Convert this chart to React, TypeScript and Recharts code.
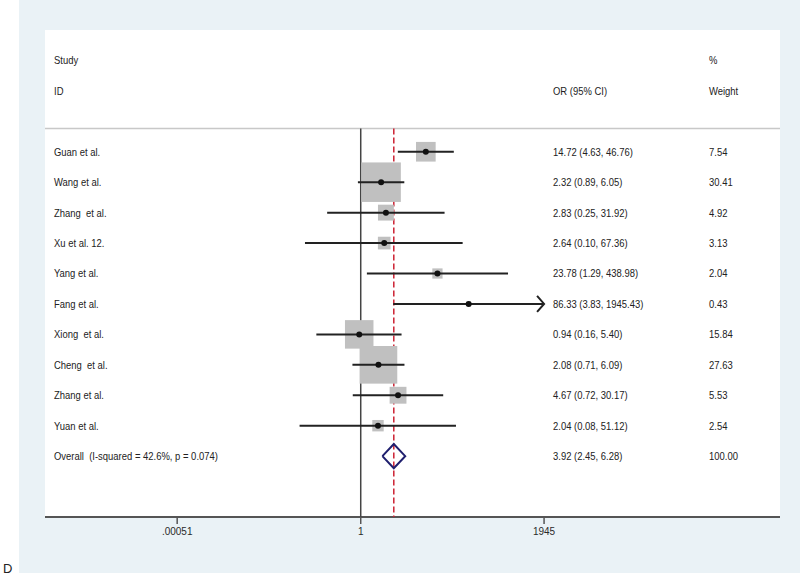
import { ScatterChart, Scatter, XAxis, YAxis, ReferenceLine } from "recharts";

const studies = [
  "Guan et al.", "Wang et al.", "Zhang  et al.", "Xu et al. 12.", "Yang et al.",
  "Fang et al.", "Xiong  et al.", "Cheng  et al.", "Zhang et al.", "Yuan et al.",
];
const oddsRatios = [14.72, 2.32, 2.83, 2.64, 23.78, 86.33, 0.94, 2.08, 4.67, 2.04];
const ciLow = [4.63, 0.89, 0.25, 0.1, 1.29, 3.83, 0.16, 0.71, 0.72, 0.08];
const ciHigh = [46.76, 6.05, 31.92, 67.36, 438.98, 1945.43, 5.4, 6.09, 30.17, 51.12];
const weights = [7.54, 30.41, 4.92, 3.13, 2.04, 0.43, 15.84, 27.63, 5.53, 2.54];

const overallLabel = "Overall  (I-squared = 42.6%, p = 0.074)";
const overallOR = 3.92;
const overallLow = 2.45;
const overallHigh = 6.28;
const overallWeight = 100.0;

const xTicks = [0.00051, 1, 1945];
const headerTop = ["Study", "", "%"];
const headerBottom = ["ID", "OR (95% CI)", "Weight"];

// layout-ish constants
const FONT = '"Liberation Sans", Arial, Helvetica, sans-serif';
const X_DOMAIN = [2.17e-6, 3.32e7];
const Y_DOMAIN = [-4, 12];
const SEP_Y = -0.76;
const BOX_PX = 39.5; // side of box for the largest study
const DIAMOND_HALF = 0.4;
const COL_X = [54, 553, 709];

const fmt = (v: number) => v.toFixed(2);
const maxW = Math.max(...weights);

const rows = studies.map((name, i) => ({ x: oddsRatios[i], y: i, w: weights[i], hi: ciHigh[i] }));
const ciSegments = studies.map((_, i) => [
  { x: ciLow[i], y: i },
  { x: ciHigh[i], y: i },
]);
const overallRow = studies.length;

const table = [
  { x: 1, y: -3, cells: headerTop },
  { x: 1, y: -2, cells: headerBottom },
  ...studies.map((name, i) => ({
    x: 1,
    y: i,
    cells: [name, `${fmt(oddsRatios[i])} (${fmt(ciLow[i])}, ${fmt(ciHigh[i])})`, fmt(weights[i])],
  })),
  {
    x: 1,
    y: overallRow,
    cells: [overallLabel, `${fmt(overallOR)} (${fmt(overallLow)}, ${fmt(overallHigh)})`, fmt(overallWeight)],
  },
];

const diamond = [
  { x: overallLow, y: overallRow },
  { x: overallOR, y: overallRow - DIAMOND_HALF },
  { x: overallHigh, y: overallRow },
  { x: overallOR, y: overallRow + DIAMOND_HALF },
  { x: overallLow, y: overallRow },
];

const nullLine = [
  { x: 1, y: SEP_Y },
  { x: 1, y: Y_DOMAIN[1] },
];
const overallLine = [
  { x: overallOR, y: SEP_Y },
  { x: overallOR, y: Y_DOMAIN[1] },
];

const arrows = rows.filter((r) => r.hi >= xTicks[xTicks.length - 1]).map((r) => ({ x: r.hi, y: r.y }));

const BoxShape = (props: any) => {
  const { cx, cy, payload } = props;
  const s = BOX_PX * Math.sqrt(payload.w / maxW);
  return <rect x={cx - s / 2} y={cy - s / 2} width={s} height={s} fill="#c0c0c0" />;
};

const DotShape = (props: any) => <circle cx={props.cx} cy={props.cy} r={3} fill="#111" />;

const NoShape = () => <g />;

const ArrowShape = (props: any) => {
  const { cx, cy } = props;
  return (
    <polyline
      points={`${cx - 7},${cy - 8} ${cx},${cy} ${cx - 7},${cy + 8}`}
      fill="none"
      stroke="#222"
      strokeWidth={2}
    />
  );
};

const TextRow = (props: any) => {
  const { cy, payload } = props;
  return (
    <g>
      {payload.cells.map((t: string, i: number) =>
        t ? (
          <text
            key={i}
            transform={`translate(${COL_X[i]} ${cy}) scale(0.86 1)`}
            dy="0.36em"
            fontSize={11}
            fontFamily={FONT}
            fill="#222"
            style={{ whiteSpace: "pre" }}
          >
            {t}
          </text>
        ) : null
      )}
    </g>
  );
};

const tickFmt = (v: number) => (v < 1 ? String(v).replace(/^0/, "") : String(v));

export default function App() {
  return (
    <div style={{ position: "relative", width: 800, height: 576, fontFamily: FONT }}>
      <style>{`body{margin:0}`}</style>
      <div style={{ position: "absolute", left: 19, top: 0, width: 781, height: 573, background: "#eaf2f6" }} />
      <div style={{ position: "absolute", left: 45, top: 30, width: 735, height: 487, background: "#fff" }} />
      <div style={{ position: "absolute", left: 3, top: 561, fontSize: 13, color: "#222" }}>D</div>
      <div style={{ position: "absolute", left: 0, top: 0 }}>
        <ScatterChart width={800} height={576} margin={{ top: 30, right: 20, left: 45, bottom: 0 }}>
          <XAxis
            type="number"
            dataKey="x"
            scale="log"
            domain={X_DOMAIN}
            allowDataOverflow
            ticks={xTicks}
            tickFormatter={tickFmt}
            height={59}
            axisLine={{ stroke: "#555", strokeWidth: 2 }}
            tickLine={{ stroke: "#555", strokeWidth: 1.5 }}
            tickSize={7}
            tickMargin={4}
            tick={{ fontSize: 10, fill: "#2a2a2a", fontFamily: FONT }}
          />
          <YAxis type="number" dataKey="y" domain={Y_DOMAIN} reversed hide allowDataOverflow />
          <ReferenceLine y={SEP_Y} stroke="#c8c8c8" strokeWidth={1.5} />
          <Scatter
            data={nullLine}
            line={{ stroke: "#444", strokeWidth: 1.5 }}
            lineType="joint"
            shape={NoShape}
            isAnimationActive={false}
          />
          <Scatter
            data={overallLine}
            line={{ stroke: "#cc2233", strokeWidth: 1.5, strokeDasharray: "6 3" }}
            lineType="joint"
            shape={NoShape}
            isAnimationActive={false}
          />
          <Scatter data={rows} shape={BoxShape} isAnimationActive={false} />
          {ciSegments.map((seg, i) => (
            <Scatter
              key={i}
              data={seg}
              line={{ stroke: "#222", strokeWidth: 2 }}
              lineType="joint"
              shape={NoShape}
              isAnimationActive={false}
            />
          ))}
          <Scatter data={rows} shape={DotShape} isAnimationActive={false} />
          <Scatter data={arrows} shape={ArrowShape} isAnimationActive={false} />
          <Scatter
            data={diamond}
            line={{ stroke: "#1f1f6e", strokeWidth: 2 }}
            lineType="joint"
            shape={NoShape}
            isAnimationActive={false}
          />
          <Scatter data={table} shape={TextRow} isAnimationActive={false} />
        </ScatterChart>
      </div>
    </div>
  );
}
